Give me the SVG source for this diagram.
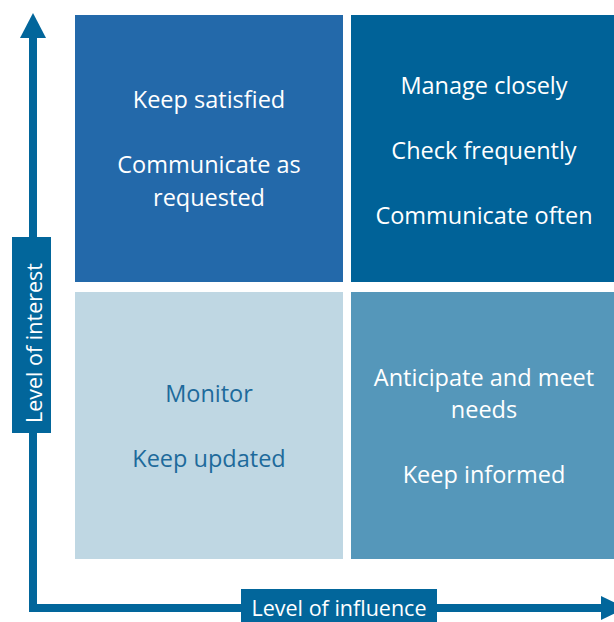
<svg xmlns="http://www.w3.org/2000/svg" width="614" height="622" viewBox="0 0 614 622">
  <style>
    .t { font-family: "Open Sans", "Liberation Sans", sans-serif; font-size: 23.5px; text-anchor: middle; fill: #ffffff; }
    .lbl { font-size: 21.5px; }
    .dark { fill: #1d6a9b; }
    .axis { fill: #02669b; }
  </style>
  <rect width="614" height="622" fill="#ffffff"/>

  <g id="connectors">
    <!-- vertical axis: level of interest -->
    <rect class="axis" x="29" y="36" width="8" height="576"/>
    <polygon class="axis" points="33,13 20,38 46,38"/>
    <!-- horizontal axis: level of influence -->
    <rect class="axis" x="29" y="604" width="574" height="8"/>
    <polygon class="axis" points="601,596 601,620 626,608"/>
  </g>

  <g id="axis-interest">
    <rect class="axis" x="12" y="237" width="39" height="196"/>
    <text class="t lbl" transform="translate(42 343) rotate(-90)">Level of interest</text>
  </g>

  <g id="axis-influence">
    <rect class="axis" x="241" y="589" width="196" height="33"/>
    <text class="t lbl" x="339" y="616">Level of influence</text>
  </g>

  <g id="keep-satisfied">
    <rect x="75" y="15" width="268" height="267" fill="#2369aa"/>
    <text class="t" x="209" y="108">Keep satisfied</text>
    <text class="t" x="209" y="173">Communicate as</text>
    <text class="t" x="209" y="206">requested</text>
  </g>

  <g id="manage-closely">
    <rect x="351" y="15" width="263" height="267" fill="#006298"/>
    <text class="t" x="484" y="94">Manage closely</text>
    <text class="t" x="484" y="159">Check frequently</text>
    <text class="t" x="484" y="224">Communicate often</text>
  </g>

  <g id="monitor">
    <rect x="75" y="292" width="268" height="267" fill="#bfd7e3"/>
    <text class="t dark" x="209" y="402">Monitor</text>
    <text class="t dark" x="209" y="467">Keep updated</text>
  </g>

  <g id="keep-informed">
    <rect x="351" y="292" width="263" height="267" fill="#5597ba"/>
    <text class="t" x="484" y="386">Anticipate and meet</text>
    <text class="t" x="484" y="418">needs</text>
    <text class="t" x="484" y="483">Keep informed</text>
  </g>
</svg>
